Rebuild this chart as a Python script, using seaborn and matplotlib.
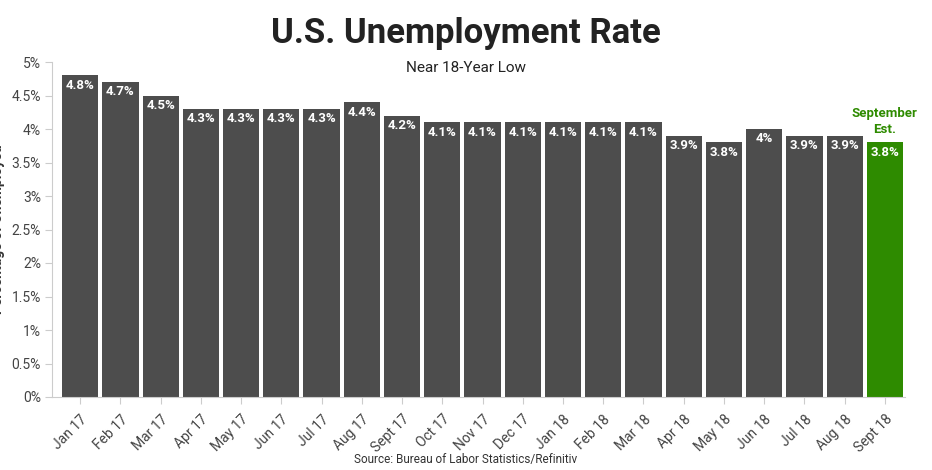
import matplotlib
matplotlib.use("Agg")
import matplotlib.pyplot as plt
import seaborn as sns
import pandas as pd

months = ["Jan 17", "Feb 17", "Mar 17", "Apr 17", "May 17", "Jun 17", "Jul 17",
          "Aug 17", "Sept 17", "Oct 17", "Nov 17", "Dec 17", "Jan 18", "Feb 18",
          "Mar 18", "Apr 18", "May 18", "Jun 18", "Jul 18", "Aug 18", "Sept 18"]
rates = [4.8, 4.7, 4.5, 4.3, 4.3, 4.3, 4.3, 4.4, 4.2, 4.1, 4.1, 4.1, 4.1, 4.1,
         4.1, 3.9, 3.8, 4.0, 3.9, 3.9, 3.8]
yticks = [0, 0.5, 1, 1.5, 2, 2.5, 3, 3.5, 4, 4.5, 5]

plt.rcParams["font.family"] = "Roboto"
df = pd.DataFrame({"month": months, "rate": rates})
colors = ["#4d4d4d"] * (len(months) - 1) + ["#2e8b00"]

fig = plt.figure(figsize=(9.32, 4.7), dpi=100)
ax = fig.add_axes([52 / 932, 73 / 470, 853 / 932, 335 / 470])
sns.barplot(data=df, x="month", y="rate", hue="month", palette=colors,
            legend=False, width=0.9, saturation=1, ax=ax)

for i, v in enumerate(rates):
    lbl = f"{v:g}%"
    ax.text(i, v - 0.05, lbl, ha="center", va="top", color="white",
            fontsize=9.5, fontweight="bold")
ax.text(len(rates) - 1, rates[-1] + 0.1, "September\nEst.", ha="center",
        va="bottom", color="#2e8b00", fontsize=9.5, fontweight="bold",
        linespacing=1.3)

ax.set_ylim(0, 5)
ax.set_xlim(-0.7, len(months) - 0.5)
ax.set_yticks(yticks)
ax.set_yticklabels([f"{t:g}%" for t in yticks], fontsize=10, color="#444444")
ax.set_xticks(range(len(months)))
ax.set_xticklabels(months, rotation=45, ha="right", rotation_mode="anchor",
                   fontsize=10, color="#444444")
ax.tick_params(axis="y", length=5, color="#cccccc", pad=3)
ax.tick_params(axis="x", length=5, color="#cccccc", pad=6)
ax.set_xlabel("")
ax.set_ylabel("Percentage of Unemployed", fontsize=10, fontweight="bold",
              color="#333333")
ax.yaxis.set_label_coords(-0.055, 0.5)
for s in ["top", "right"]:
    ax.spines[s].set_visible(False)
ax.spines["left"].set_color("#cccccc")
ax.spines["bottom"].set_color("#cccccc")

fig.text(466 / 932, 1 - 33 / 470, "U.S. Unemployment Rate", ha="center",
         va="center", fontsize=25, fontweight="bold", color="#222222")
fig.text(466 / 932, 1 - 68 / 470, "Near 18-Year Low", ha="center",
         va="center", fontsize=11, color="#222222")
fig.text(466 / 932, 1 - 459 / 470, "Source: Bureau of Labor Statistics/Refinitiv",
         ha="center", va="center", fontsize=8.5, color="#333333")

fig.savefig("out.png", dpi=100)
